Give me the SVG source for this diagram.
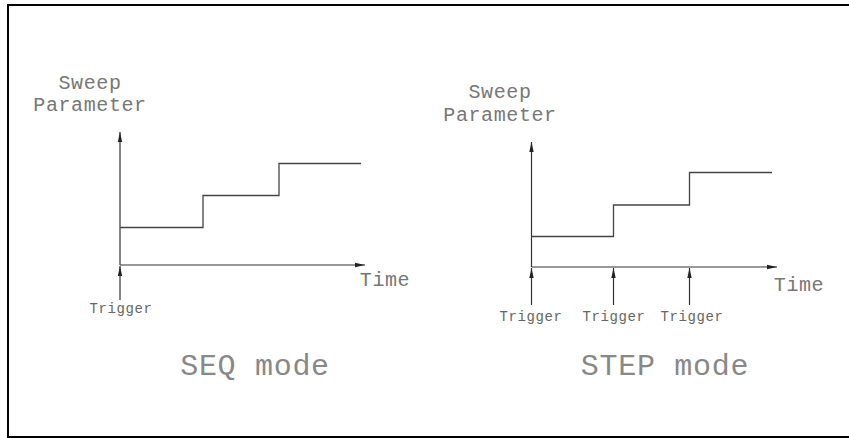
<svg xmlns="http://www.w3.org/2000/svg" width="849" height="438" viewBox="0 0 849 438">
<defs>
<marker id="ah" viewBox="0 0 10 6" refX="10" refY="3" markerWidth="10" markerHeight="6" markerUnits="userSpaceOnUse" orient="auto">
<path d="M0,0.8 L10,3 L0,5.2 Z" fill="#222"/>
</marker>
<style>
.ax{stroke:#333;stroke-width:1.2;fill:none}
.st{stroke:#444;stroke-width:1.3;fill:none}
.t{font-family:"Liberation Mono","DejaVu Sans Mono",monospace;fill:#777;text-anchor:middle}
.lbl{font-size:20px;letter-spacing:0.6px}
.trg{font-size:14px;letter-spacing:0.6px;fill:#666}
.mode{font-size:30px;letter-spacing:0.7px;fill:#888}
</style>
</defs>
<rect x="8" y="5" width="843" height="432" fill="#fff" stroke="#000" stroke-width="2"/>
<g id="seq-chart">
<text class="t lbl" x="90" y="89">Sweep</text>
<text class="t lbl" x="90" y="111">Parameter</text>
<text class="t lbl" x="385" y="286">Time</text>
<text class="t trg" x="121" y="313">Trigger</text>
<text class="t mode" x="255" y="375">SEQ mode</text>
</g>
<g id="step-chart">
<text class="t lbl" x="500" y="98">Sweep</text>
<text class="t lbl" x="500" y="121">Parameter</text>
<text class="t lbl" x="799" y="291">Time</text>
<text class="t trg" x="531" y="321">Trigger</text>
<text class="t trg" x="614" y="321">Trigger</text>
<text class="t trg" x="692" y="321">Trigger</text>
<text class="t mode" x="665" y="375">STEP mode</text>
</g>
<g id="connectors">
<line class="ax" x1="120" y1="265" x2="120" y2="132" marker-end="url(#ah)"/>
<line class="ax" x1="120" y1="265" x2="365" y2="265" marker-end="url(#ah)"/>
<line class="ax" x1="120" y1="300" x2="120" y2="266" marker-end="url(#ah)"/>
<path class="st" d="M120,227.5 H203 V195.5 H279 V163.5 H361"/>
<line class="ax" x1="531.5" y1="267" x2="531.5" y2="142" marker-end="url(#ah)"/>
<line class="ax" x1="531.5" y1="267" x2="777" y2="267" marker-end="url(#ah)"/>
<line class="ax" x1="531.5" y1="305" x2="531.5" y2="268" marker-end="url(#ah)"/>
<line class="ax" x1="613.5" y1="305" x2="613.5" y2="268" marker-end="url(#ah)"/>
<line class="ax" x1="689.5" y1="305" x2="689.5" y2="268" marker-end="url(#ah)"/>
<path class="st" d="M531.5,236.5 H613.5 V205 H689.5 V172.5 H772"/>
</g>
</svg>
